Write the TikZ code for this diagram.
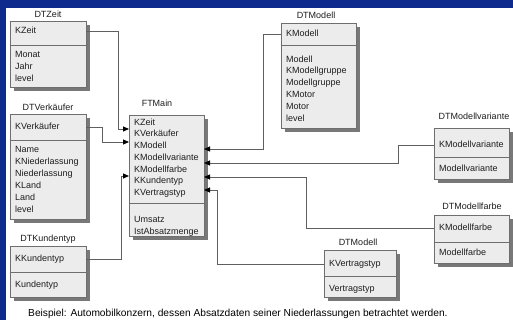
\documentclass[tikz,border=0pt]{standalone}
\usepackage{fontspec}
\setmainfont{Liberation Sans}
\usetikzlibrary{arrows.meta,shadows}

\definecolor{deckblue}{RGB}{14,42,140}
\definecolor{boxfill}{RGB}{236,236,236}
\definecolor{boxline}{RGB}{110,110,110}
\definecolor{shadegray}{RGB}{120,120,120}
\definecolor{wire}{RGB}{95,95,95}
\definecolor{ink}{RGB}{30,30,30}

\tikzset{
  tbl/.style={draw=boxline, fill=boxfill, line width=0.8pt, inner sep=0pt,
    outer sep=0pt, anchor=north west,
    drop shadow={shadow xshift=4pt, shadow yshift=-4pt, fill=shadegray, opacity=1}},
  sepline/.style={draw=boxline, line width=0.8pt},
  field/.style={anchor=mid west, inner sep=0pt, text=ink, font=\fontsize{9}{10}\selectfont},
  tbltitle/.style={anchor=mid, inner sep=0pt, text=ink, font=\fontsize{9}{10}\selectfont},
  conn/.style={draw=wire, line width=0.8pt},
  arr/.style={conn, -{Triangle[length=6pt,width=5pt,color=black]}}
}

% entity box: name, left, top, right, bottom, y of the key/attribute separator
\newcommand\entitybox[6]{%
  \node[tbl, minimum width={#4-#2}, minimum height={#5-#3}] (#1) at (#2,#3) {};
  \coordinate (#1-sep) at (#2,#6);
  \draw[sepline] (#1.west |- #1-sep) -- (#1.east |- #1-sep);
}

\begin{document}
\begin{tikzpicture}[x=1pt,y=-1pt]
  \fill[deckblue] (0,0) rectangle (513,320);
  \fill[white] (6,8) rectangle (513,320);
  \useasboundingbox (0,0) rectangle (513,320);

  % ---- DTZeit
  \node[tbltitle] (tZeit) at (48,15) {DTZeit};
  \entitybox{zeit}{10}{21}{86}{87}{45}
  \node[field] (zKZeit) at (15,31) {KZeit};
  \node[field] (zMonat) at (15,55) {Monat};
  \node[field] (zJahr)  at (15,67) {Jahr};
  \node[field] (zLevel) at (15,79) {level};

  % ---- DTVerkäufer
  \node[tbltitle] (tVerk) at (48,108) {DTVerkäufer};
  \entitybox{verk}{10}{114}{86}{219}{140}
  \node[field] (vKVerk) at (15,127) {KVerkäufer};
  \node[field] (vName)  at (15,150) {Name};
  \node[field] (vKNied) at (15,162) {KNiederlassung};
  \node[field] (vNied)  at (15,174) {Niederlassung};
  \node[field] (vKLand) at (15,186) {KLand};
  \node[field] (vLand)  at (15,198) {Land};
  \node[field] (vLevel) at (15,210) {level};

  % ---- DTKundentyp
  \node[tbltitle] (tKund) at (48,239) {DTKundentyp};
  \entitybox{kund}{10}{246}{86}{297}{272}
  \node[field] (kKKund) at (15,259) {KKundentyp};
  \node[field] (kKund)  at (15,285) {Kundentyp};

  % ---- FTMain (fact table)
  \node[tbltitle] (tMain) at (157,104) {FTMain};
  \entitybox{ft}{129}{115}{204}{236}{203}
  \node[field] (fKZeit)   at (134,123) {KZeit};
  \node[field] (fKVerk)   at (134,134) {KVerkäufer};
  \node[field] (fKMod)    at (134,146) {KModell};
  \node[field] (fKVar)    at (134,158) {KModellvariante};
  \node[field] (fKFarbe)  at (134,170) {KModellfarbe};
  \node[field] (fKKund)   at (134,181) {KKundentyp};
  \node[field] (fKVertr)  at (134,193) {KVertragstyp};
  \node[field] (fUmsatz)  at (134,220) {Umsatz};
  \node[field] (fMenge)   at (134,232) {IstAbsatzmenge};

  % ---- DTModell
  \node[tbltitle] (tMod) at (316,16) {DTModell};
  \entitybox{modell}{281}{23}{356}{128}{45}
  \node[field] (mKMod)    at (286,34)  {KModell};
  \node[field] (mMod)     at (286,60)  {Modell};
  \node[field] (mKGruppe) at (286,71)  {KModellgruppe};
  \node[field] (mGruppe)  at (286,83)  {Modellgruppe};
  \node[field] (mKMotor)  at (286,95)  {KMotor};
  \node[field] (mMotor)   at (286,107) {Motor};
  \node[field] (mLevel)   at (286,119) {level};

  % ---- DTModellvariante
  \node[tbltitle] (tVar) at (474,117) {DTModellvariante};
  \entitybox{variante}{434}{128}{509}{179}{157}
  \node[field] (aKVar) at (439,145) {KModellvariante};
  \node[field] (aVar)  at (439,169) {Modellvariante};

  % ---- DTModellfarbe
  \node[tbltitle] (tFarbe) at (472,207) {DTModellfarbe};
  \entitybox{farbe}{434}{215}{509}{263}{242}
  \node[field] (bKFarbe) at (439,228) {KModellfarbe};
  \node[field] (bFarbe)  at (439,253) {Modellfarbe};

  % ---- DTModell (Vertragstyp)
  \node[tbltitle] (tVertr) at (358,243) {DTModell};
  \entitybox{vertrag}{324}{250}{396}{297}{276}
  \node[field] (cKVertr) at (329,264) {KVertragstyp};
  \node[field] (cVertr)  at (329,289) {Vertragstyp};

  % ---- caption
  \node[anchor=mid west, inner sep=0pt, text=black, font=\fontsize{10.2}{11}\selectfont]
    (caption) at (28,314)
    {Beispiel: Automobilkonzern, dessen Absatzdaten seiner Niederlassungen betrachtet werden.};

  % ---- key entry points on the fact table
  \coordinate (inZeit)  at (129,129);
  \coordinate (inVerk)  at (129,142);
  \coordinate (inKund)  at (129,176);
  \coordinate (inMod)   at (204,149);
  \coordinate (inVar)   at (204,163);
  \coordinate (inFarbe) at (204,177);
  \coordinate (inVertr) at (204,190);

  % ---- foreign key connectors
  \draw[arr] (zeit.east |- zKZeit.mid) -| ([xshift=-11pt]inZeit) -- (inZeit);
  \draw[arr] (verk.east |- vKVerk.mid) -| ([xshift=-27pt]inVerk) -- (inVerk);
  \draw[arr] (kund.east |- kKKund.mid) -| ([xshift=-8pt]inKund) -- (inKund);
  \draw[arr] (modell.west |- mKMod.mid) -| ([xshift=59pt]inMod) -- (inMod);
  \draw[arr] (variante.west |- aKVar.mid) -| ([xshift=194pt]inVar) -- (inVar);
  \draw[arr] (farbe.west |- bKFarbe.mid) -| ([xshift=102pt]inFarbe) -- (inFarbe);
  \draw[arr] (vertrag.west |- cKVertr.mid) -| ([xshift=13pt]inVertr) -- (inVertr);
\end{tikzpicture}
\end{document}
